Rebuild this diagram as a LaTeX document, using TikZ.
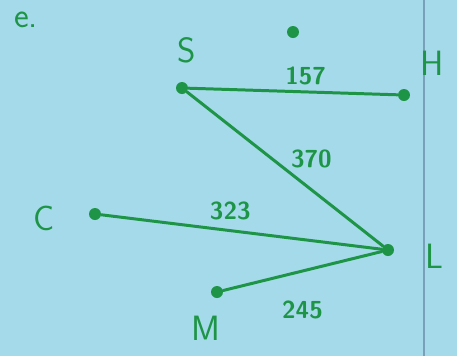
\documentclass[tikz,border=0pt]{standalone}
\usepackage{xcolor}
\usepackage{tikz}
\usetikzlibrary{positioning, calc}

\definecolor{paper}{RGB}{164,218,233}
\definecolor{ink}{RGB}{30,148,70}
\definecolor{margin}{RGB}{120,160,185}

\begin{document}
\begin{tikzpicture}[x=0.02cm, y=-0.02cm,
    vertex/.style={circle, fill=ink, inner sep=0pt, minimum size=2.4mm},
    vlabel/.style={text=ink, font=\sffamily\fontsize{20}{20}\selectfont},
    wlabel/.style={text=ink, font=\sffamily\bfseries\fontsize{14}{14}\selectfont},
    edge/.style={draw=ink, line width=1.7pt, line cap=round}
]

% Paper
\fill[paper] (0,0) rectangle (457,356);
\useasboundingbox (0,0) rectangle (457,356);
\draw[margin, line width=0.6pt] (424,0) -- (424,356);

% Vertices
\node[vertex] (s) at (182,88) {};
\node[vertex] (h) at (404,95) {};
\node[vertex] (c) at (95,214) {};
\node[vertex] (l) at (388,250) {};
\node[vertex] (m) at (217,292) {};
\node[vertex] (dot) at (293,32) {};

% Labels
\node[vlabel] (part) at (26,20) {e.};
\node[vlabel] (sname) at (187,50) {S};
\node[vlabel] (hname) at (432,63) {H};
\node[vlabel] (cname) at (44,218) {C};
\node[vlabel] (lname) at (434,256) {L};
\node[vlabel] (mname) at (206,328) {M};

% Edges
\draw[edge] (s) -- (h) node[wlabel, pos=0.56, above] {157};
\draw[edge] (s) -- (l) node[wlabel, pos=0.5, xshift=15pt, yshift=6pt] {370};
\draw[edge] (c) -- (l) node[wlabel, pos=0.46, above=2pt] {323};
\draw[edge] (m) -- (l) node[wlabel, pos=0.5, below=13pt] {245};

\end{tikzpicture}
\end{document}
